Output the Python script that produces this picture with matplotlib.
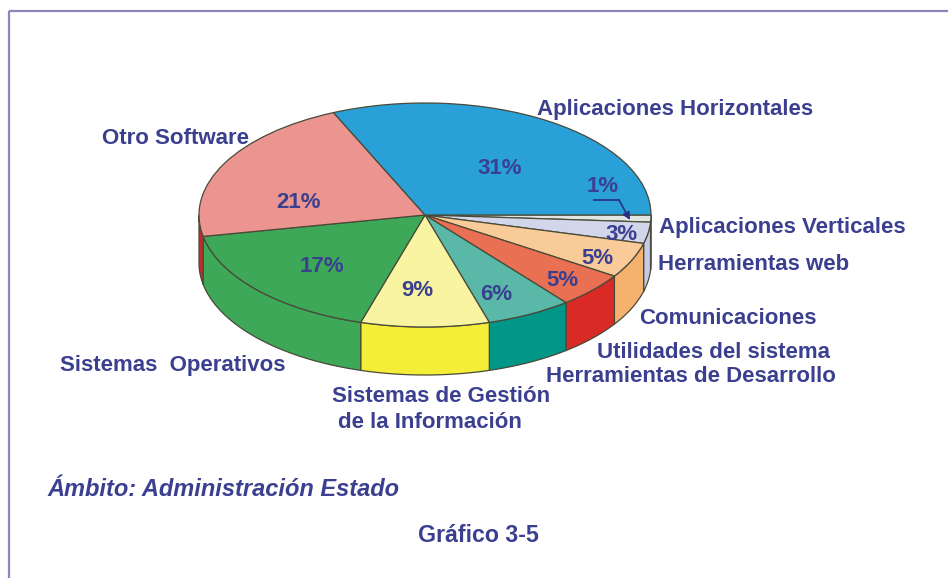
import numpy as np
import matplotlib
matplotlib.use('Agg')
import matplotlib.pyplot as plt
from matplotlib.transforms import Affine2D

# porcentajes en sentido horario desde el este
valores = [1, 3, 5, 5, 6, 9, 17, 21, 31]
etiquetas_pct = ['1%', '3%', '5%', '5%', '6%', '9%', '17%', '21%', '31%']
color_tapa = ['#e2e6e2', '#d2d6ea', '#f8cb98', '#e97052', '#5ab8a8', '#f8f4a2', '#3ca858', '#ec9490', '#29a0d8']
color_lado = ['#c8cee0', '#c4cae8', '#f5b26e', '#d92a26', '#009688', '#f4ee38', '#3ca858', '#c8282c', '#29a0d8']

pos_pct = [(603, 186), (622, 234), (597, 259), (562, 281), (496, 295), (417, 290), (322, 266), (299, 202), (500, 168)]

nombres = ['Aplicaciones Horizontales', 'Otro Software', 'Aplicaciones Verticales', 'Herramientas web',
           'Comunicaciones', 'Utilidades del sistema', 'Herramientas de Desarrollo', 'Sistemas  Operativos',
           'Sistemas de Gestión', 'de la Información']
pos_nombres = [(537, 110), (102, 138), (659, 228), (658, 265), (639, 318), (597, 353), (546, 376), (60, 366),
               (332, 396), (338, 422)]

cx, cy = 425, 215
rx, ry = 226, 112
alto = 48
azul = '#3a3f8f'
borde = '#4a4a38'

plt.rcParams['font.family'] = ['Liberation Sans', 'DejaVu Sans']

fig = plt.figure(figsize=(9.48, 5.78), dpi=100)
ax = fig.add_axes([0, 0, 1, 1])

# lado del pastel
limites = np.cumsum([0] + valores) / sum(valores) * 360
for i in range(len(valores)):
    a0, a1 = limites[i], min(limites[i + 1], 180)
    if a0 >= 180:
        continue
    t = np.radians(np.linspace(a0, a1, 60))
    x = cx + rx * np.cos(t)
    y = cy + ry * np.sin(t)
    ax.fill(np.r_[x, x[::-1]], np.r_[y, y[::-1] + alto], facecolor=color_lado[i], edgecolor=borde, lw=0.9, zorder=1)

# tapa, el eje y va invertido asi que counterclock da sentido horario
wedges, _ = ax.pie(valores, colors=color_tapa, startangle=0, counterclock=True, center=(cx, cy), radius=rx,
                   wedgeprops={'edgecolor': borde, 'linewidth': 0.9, 'zorder': 2})
aplasta = Affine2D().translate(-cx, -cy).scale(1, ry / rx).translate(cx, cy)
for w in wedges:
    w.set_transform(aplasta + ax.transData)

ax.set_aspect('auto')
ax.set_xlim(0, 948)
ax.set_ylim(578, 0)
ax.axis('off')

# marco
ax.plot([9, 9], [578, 11], color='#8c86bc', lw=1.6, solid_capstyle='butt', zorder=3)
ax.plot([9, 948], [11, 11], color='#8c86bc', lw=1.6, solid_capstyle='butt', zorder=3)

for txt, (x, y) in zip(etiquetas_pct, pos_pct):
    ax.text(x, y, txt, color=azul, fontsize=16, fontweight='bold', ha='center', va='center', zorder=5)

for txt, (x, y) in zip(nombres, pos_nombres):
    ax.text(x, y, txt, color=azul, fontsize=16, fontweight='bold', ha='left', va='center', zorder=5)

# flecha del 1%
ax.plot([594, 619], [200, 200], color='#2a2f80', lw=1.2, zorder=5)
ax.annotate('', xy=(630, 220), xytext=(619, 200), zorder=5,
            arrowprops=dict(arrowstyle='-|>', color='#2a2f80', lw=1.2, mutation_scale=11, shrinkA=0, shrinkB=0))

ax.text(47, 490, 'Ámbito: Administración Estado', color=azul, fontsize=17, fontweight='bold', style='italic',
        ha='left', va='center')
ax.text(418, 535, 'Gráfico 3-5', color=azul, fontsize=16.7, fontweight='bold', ha='left', va='center')

fig.savefig('out.png', dpi=100)
